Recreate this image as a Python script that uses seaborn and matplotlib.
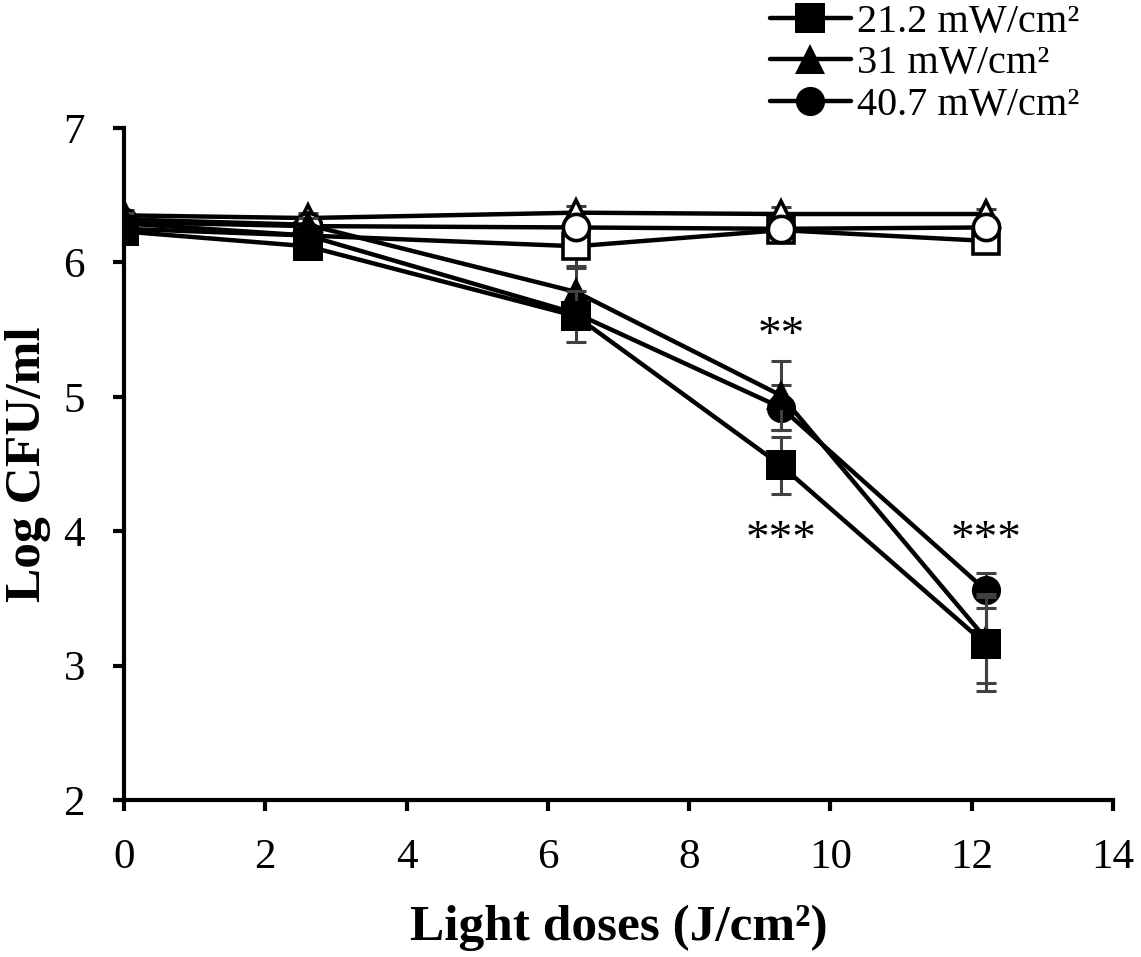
import numpy as np
import pandas as pd
import matplotlib
matplotlib.use("Agg")
import matplotlib.pyplot as plt
from matplotlib.lines import Line2D
import seaborn as sns

# ---------------- data ----------------
doses = [0, 2.6, 6.4, 9.3, 12.2]
series_labels = ["21.2 mW/cm²", "31 mW/cm²", "40.7 mW/cm²"]

# treated (filled markers)
treat_21 = [6.23, 6.12, 5.60, 4.49, 3.16]
treat_31 = [6.32, 6.28, 5.78, 5.01, 3.20]
treat_40 = [6.29, 6.20, 5.62, 4.92, 3.56]
err_treat_21 = [0.05, 0.05, 0.19, 0.21, 0.35]
err_treat_31 = [0.05, 0.05, 0.18, 0.26, 0.33]
err_treat_40 = [0.05, 0.05, 0.10, 0.17, 0.13]

# controls (open markers)
ctrl_21 = [6.25, 6.20, 6.12, 6.24, 6.16]
ctrl_31 = [6.35, 6.33, 6.37, 6.36, 6.36]
ctrl_40 = [6.30, 6.27, 6.26, 6.25, 6.26]
err_ctrl_21 = [0.04, 0.04, 0.15, 0.04, 0.04]
err_ctrl_31 = [0.04, 0.04, 0.05, 0.05, 0.04]
err_ctrl_40 = [0.04, 0.04, 0.04, 0.04, 0.04]

xticks = [0, 2, 4, 6, 8, 10, 12, 14]
yticks = [2, 3, 4, 5, 6, 7]

# significance marks: (x, y, text)
sig_x = [9.3, 9.3, 12.2]
sig_y = [5.36, 3.845, 3.845]
sig_txt = ["**", "***", "***"]

# ---------------- style ----------------
sns.set_theme(style="ticks")
plt.rcParams["font.family"] = ["Liberation Serif", "DejaVu Serif"]
plt.rcParams["text.color"] = "black"
plt.rcParams["axes.labelcolor"] = "black"
plt.rcParams["xtick.color"] = "black"
plt.rcParams["ytick.color"] = "black"

fig = plt.figure(figsize=(11.41, 9.57), dpi=100)
ax = fig.add_axes([124 / 1141, 1 - 800 / 957, (1113 - 124) / 1141, (800 - 128) / 957])

markers = ["s", "^", "o"]
msize = 21
ecol = "#404040"
lw = 3.2

def draw(yvals, errs, marker, filled, z):
    df = pd.DataFrame({"dose": doses, "logcfu": yvals})
    ax.errorbar(df["dose"], df["logcfu"], yerr=errs, fmt="none", ecolor=ecol,
                elinewidth=2.2, capsize=7, capthick=2.2, zorder=z - 0.5)
    kw = dict(markerfacecolor="black" if filled else "white",
              markeredgecolor="black", markeredgewidth=0 if filled else 2.6)
    sns.lineplot(data=df, x="dose", y="logcfu", ax=ax, color="black", lw=lw,
                 marker=marker, markersize=msize if filled else msize * 0.9,
                 errorbar=None, zorder=z, **kw)

# controls
draw(ctrl_21, err_ctrl_21, "s", False, 3)
draw(ctrl_40, err_ctrl_40, "o", False, 4)
draw(ctrl_31, err_ctrl_31, "^", False, 3.5)
# treated
draw(treat_40, err_treat_40, "o", True, 5)
draw(treat_31, err_treat_31, "^", True, 6)
draw(treat_21, err_treat_21, "s", True, 7)

for x, y, t in zip(sig_x, sig_y, sig_txt):
    ax.text(x, y, t, ha="center", va="baseline", fontsize=34, color="black")

ax.set_xlim(0, 14)
ax.set_ylim(2, 7)
ax.set_xticks(xticks)
ax.set_yticks(yticks)
ax.tick_params(axis="both", direction="out", length=8, width=3, labelsize=31,
               pad=20, colors="black")
for s in ["top", "right"]:
    ax.spines[s].set_visible(False)
for s in ["left", "bottom"]:
    ax.spines[s].set_linewidth(3)
    ax.spines[s].set_color("black")
    ax.spines[s].set_zorder(10)

ax.set_xlabel("Light doses (J/cm²)", fontsize=37, fontweight="bold", color="black")
ax.set_ylabel("Log CFU/ml", fontsize=37, fontweight="bold", color="black")
ax.xaxis.label.set_va("center")
ax.yaxis.label.set_va("center")
ax.xaxis.set_label_coords(0.5, (800 - 928) / 672)
ax.yaxis.set_label_coords((28 - 124) / 989, 0.5)

handles = [Line2D([], [], color="black", lw=lw, marker=m, markersize=msize,
                  markerfacecolor="black", markeredgewidth=0) for m in markers]
leg = fig.legend(handles, series_labels, loc="upper left",
                 bbox_to_anchor=(770 / 1141, 1 - 4 / 957), frameon=False,
                 fontsize=29, handlelength=2.0, handletextpad=0.15,
                 labelspacing=0.1, borderpad=0, borderaxespad=0,
                 labelcolor="black")
if ax.get_legend() is not None:
    ax.get_legend().remove()

fig.savefig("out.png", dpi=100)
